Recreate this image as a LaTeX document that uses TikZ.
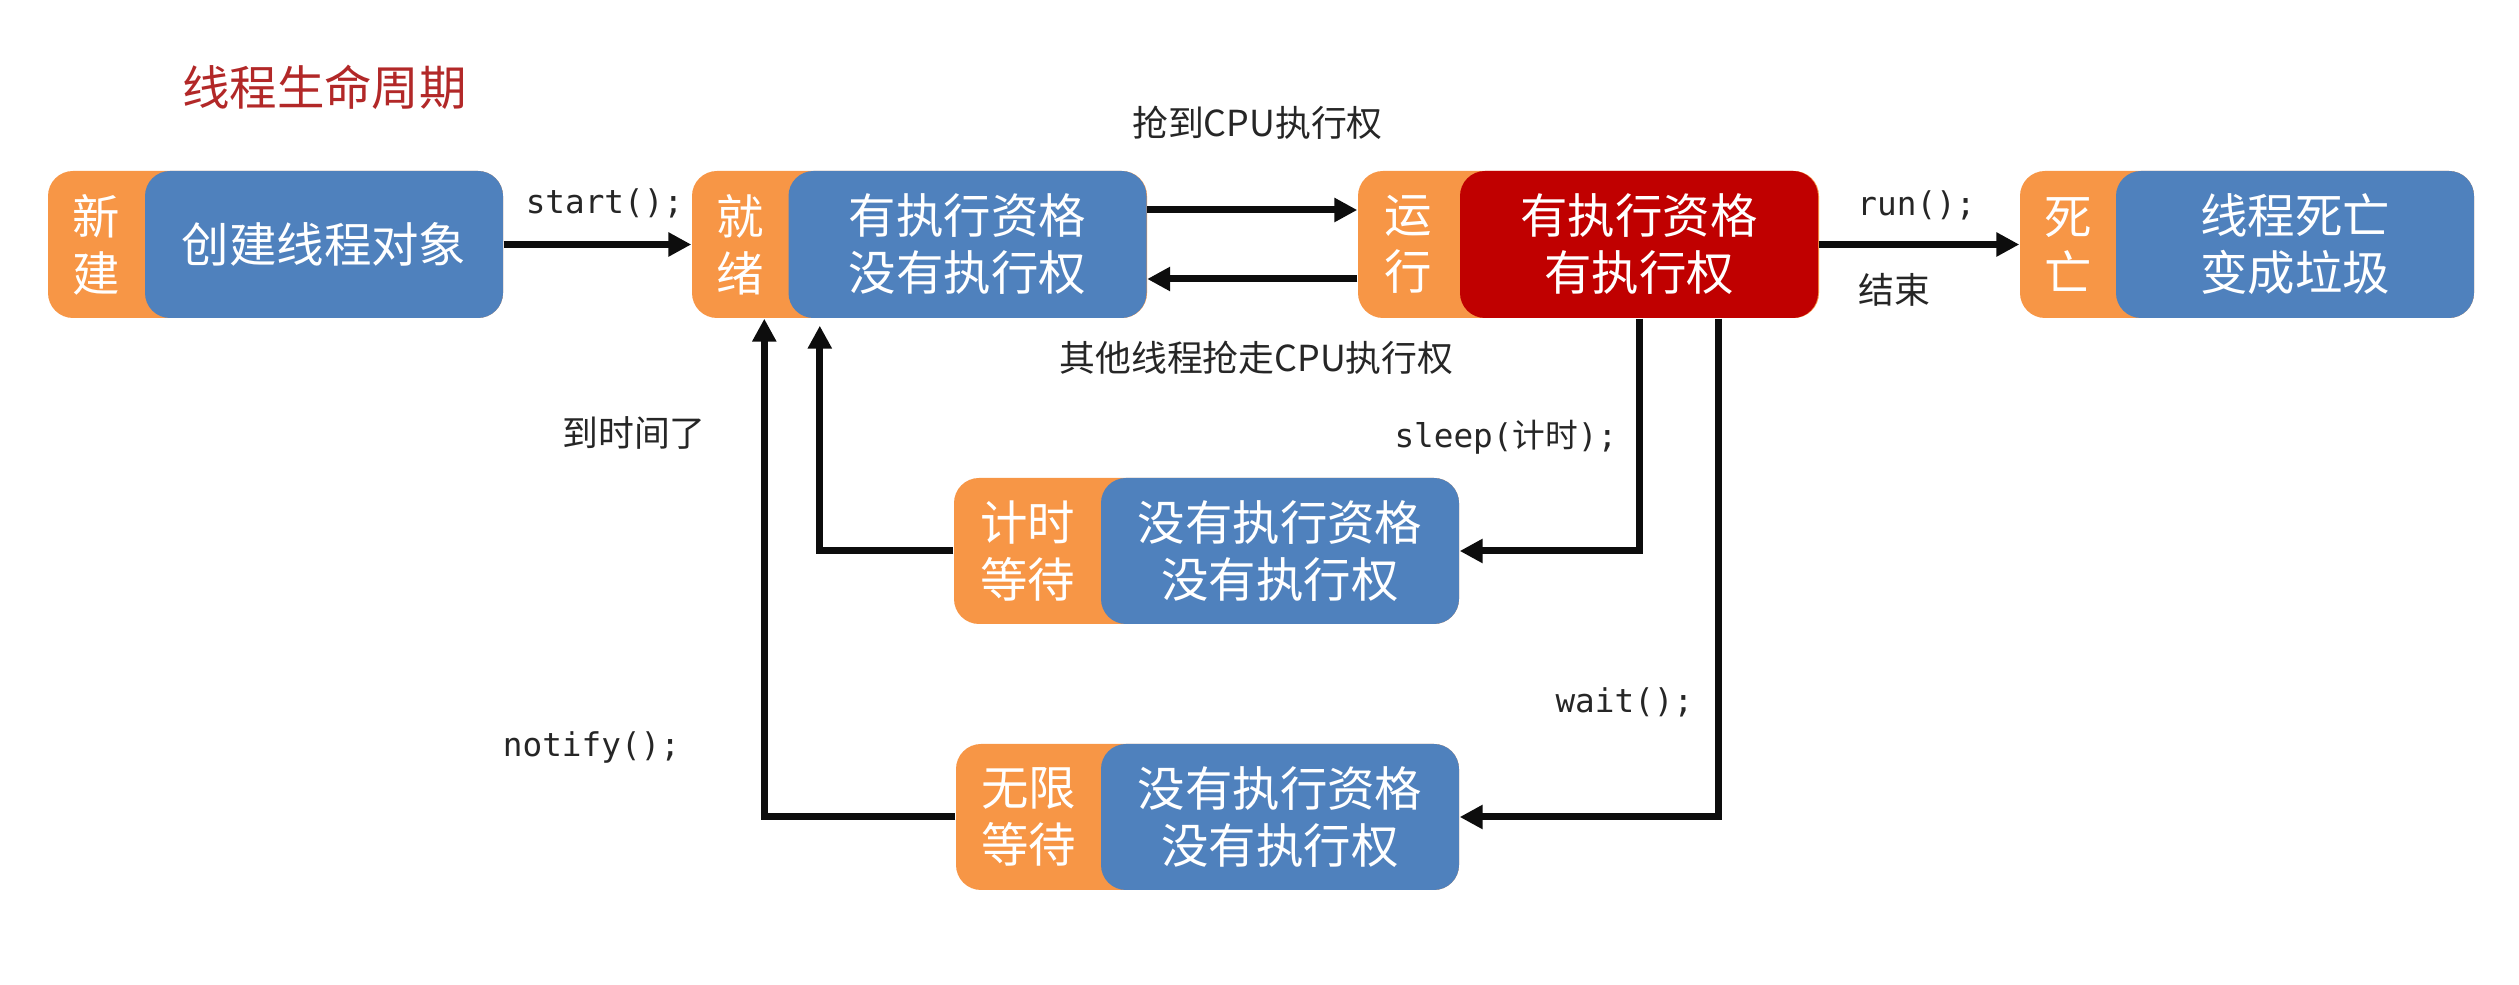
\documentclass[tikz,border=0pt]{standalone}
\usepackage{fontspec}
\setmainfont{Noto Sans CJK SC}
\newfontfamily\cjk{Noto Sans CJK SC}
\setmonofont{DejaVu Sans Mono}
\usetikzlibrary{arrows.meta}

\definecolor{tagorange}{RGB}{247,150,70}
\definecolor{bodyblue}{RGB}{79,129,189}
\definecolor{runred}{RGB}{192,0,0}
\definecolor{titlered}{RGB}{178,40,40}
\definecolor{inkgray}{RGB}{38,38,38}
\definecolor{flowblack}{RGB}{13,13,13}

\tikzset{
    tag/.style={rectangle, rounded corners=0.25cm, fill=tagorange, minimum height=1.47cm, inner sep=0pt},
    tagtext/.style={text=white, align=center, inner sep=0pt, font=\fontsize{13.5}{16.2}\selectfont},
    body/.style={rectangle, rounded corners=0.25cm, fill=bodyblue, text=white, minimum width=3.58cm,
        minimum height=1.47cm, inner sep=0pt, align=center, font=\fontsize{13.5}{16.2}\selectfont},
    flow/.style={draw=flowblack, line width=0.07cm, -{Triangle[length=0.23cm, width=0.23cm]}},
    note/.style={text=inkgray, inner sep=0pt, font=\fontsize{10.2}{12}\selectfont},
    code/.style={text=inkgray, inner sep=0pt, font=\ttfamily\fontsize{9.3}{11}\selectfont}
}

\begin{document}
\begin{tikzpicture}
    \useasboundingbox (0,0) rectangle (25.19,-9.85);
    \node[text=titlered, inner sep=0pt, font=\fontsize{13.5}{16}\selectfont] (heading) at (3.245,-0.87) {线程生命周期};

    % states
    \node[tag, minimum width=4.55cm] (new) at (2.755,-2.445) {};
    \node[body] (newbody) at (3.24,-2.445) {创建线程对象};
    \node[tagtext] (newtag) at (0.965,-2.445) {新\\建};
    \node[tag, minimum width=4.55cm] (ready) at (9.195,-2.445) {};
    \node[body] (readybody) at (9.675,-2.445) {有执行资格\\没有执行权};
    \node[tagtext] (readytag) at (7.40,-2.445) {就\\绪};
    \node[tag, minimum width=4.61cm] (run) at (15.885,-2.445) {};
    \node[body, fill=runred] (runbody) at (16.39,-2.445) {有执行资格\\有执行权};
    \node[tagtext] (runtag) at (14.085,-2.445) {运\\行};
    \node[tag, minimum width=4.54cm] (dead) at (22.47,-2.445) {};
    \node[body] (deadbody) at (22.95,-2.445) {线程死亡\\变成垃圾};
    \node[tagtext] (deadtag) at (20.68,-2.445) {死\\亡};
    \node[tag, minimum width=5.05cm, minimum height=1.46cm] (timed) at (12.065,-5.51) {};
    \node[body, minimum height=1.46cm] (timedbody) at (12.80,-5.51) {没有执行资格\\没有执行权};
    \node[tagtext] (timedtag) at (10.275,-5.51) {计时\\等待};
    \node[tag, minimum width=5.03cm, minimum height=1.46cm] (wait) at (12.075,-8.17) {};
    \node[body, minimum height=1.46cm] (waitbody) at (12.80,-8.17) {没有执行资格\\没有执行权};
    \node[tagtext] (waittag) at (10.285,-8.17) {无限\\等待};

    % transitions
    \draw[flow] (newbody.east) -- (ready.west);
    \draw[flow] ([yshift=0.345cm]readybody.east) -- ([yshift=0.345cm]run.west);
    \draw[flow] ([yshift=-0.345cm]run.west) -- ([yshift=-0.345cm]readybody.east);
    \draw[flow] (runbody.east) -- (dead.west);
    \draw[flow] (runbody.south) |- (timedbody.east);
    \draw[flow] ([xshift=0.79cm]runbody.south) |- (waitbody.east);
    \draw[flow] (timed.west) -| ([xshift=0.32cm, yshift=-0.07cm]readybody.south west);
    \draw[flow] (wait.west) -| ([xshift=0.73cm]ready.south west);

    % labels
    \node[code] (startcall) at (6.045,-2.03) {start();};
    \node[note] (grab) at (12.575,-1.23) {抢到CPU执行权};
    \node[note] (lose) at (12.565,-3.58) {其他线程抢走CPU执行权};
    \node[code] (runcall) at (19.165,-2.05) {run();};
    \node[note, anchor=west] (finish) at (18.58,-2.90) {结束};
    \node[code, anchor=east] (sleepcall) at (16.18,-4.37) {sleep({\cjk 计时});};
    \node[code, anchor=east] (waitcall) at (16.94,-7.02) {wait();};
    \node[note] (timeup) at (6.34,-4.33) {到时间了};
    \node[code] (notifycall) at (5.915,-7.47) {notify();};
\end{tikzpicture}
\end{document}
